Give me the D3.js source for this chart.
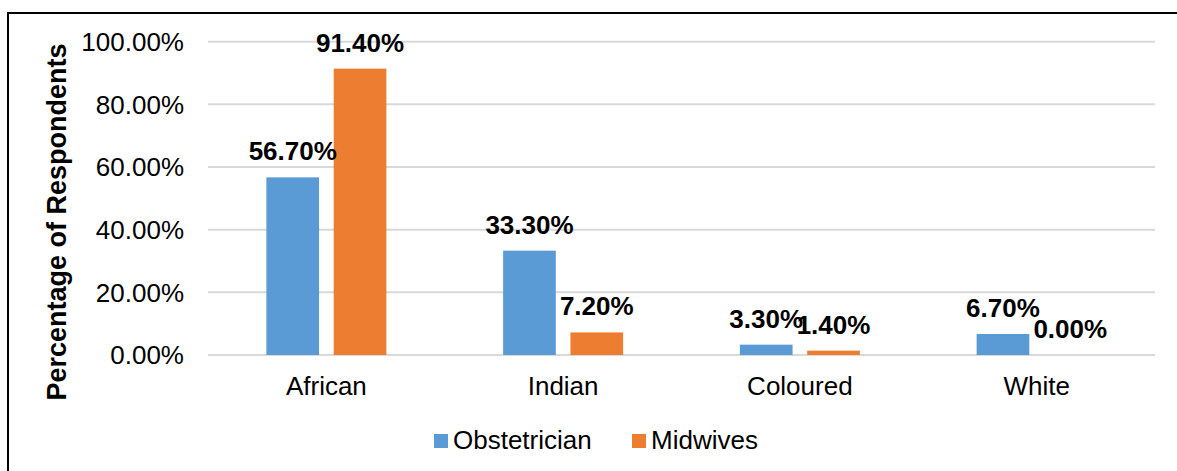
<!DOCTYPE html>
<html>
<head>
<meta charset="utf-8">
<script src="https://cdn.jsdelivr.net/npm/d3@7"></script>
<style>
  html, body { margin: 0; padding: 0; background: #fff; }
  svg { display: block; font-family: "Liberation Sans", Arial, sans-serif; }
</style>
</head>
<body>
<svg id="chart" width="1177" height="471"></svg>
<script>
const categories = ["African", "Indian", "Coloured", "White"];
const seriesNames = ["Obstetrician", "Midwives"];
const obstetrician = [56.7, 33.3, 3.3, 6.7];
const midwives = [91.4, 7.2, 1.4, 0.0];
const seriesValues = [obstetrician, midwives];
const yTicks = [0, 20, 40, 60, 80, 100];
const colors = ["#5b9bd5", "#ed7d31"];

const svg = d3.select("#chart");

// outer frame (only top and left visible in the crop)
svg.append("rect")
  .attr("x", 8).attr("y", 13)
  .attr("width", 1200).attr("height", 500)
  .attr("fill", "none").attr("stroke", "#000").attr("stroke-width", 2);

const plotLeft = 208, plotRight = 1155, plotTop = 41.7, plotBottom = 355;

const y = d3.scaleLinear().domain([0, 100]).range([plotBottom, plotTop]);
const x0 = d3.scaleBand().domain(categories).range([plotLeft, plotRight]).paddingInner(0).paddingOuter(0);
const groupW = 120;
const x1 = d3.scaleBand().domain(seriesNames).range([0, groupW]).paddingInner(0.2175).paddingOuter(0);

// gridlines
svg.append("g").selectAll("line").data(yTicks).join("line")
  .attr("x1", plotLeft).attr("x2", plotRight)
  .attr("y1", d => y(d)).attr("y2", d => y(d))
  .attr("stroke", "#d9d9d9").attr("stroke-width", 2);

// y tick labels
svg.append("g").selectAll("text").data(yTicks).join("text")
  .attr("x", 184).attr("y", d => y(d))
  .attr("dy", "0.36em")
  .attr("text-anchor", "end")
  .attr("font-size", 26)
  .attr("fill", "#000")
  .text(d => d.toFixed(2) + "%");

// bars
const groups = svg.append("g").selectAll("g").data(categories).join("g")
  .attr("transform", c => `translate(${x0(c) + (x0.bandwidth() - groupW) / 2},0)`);

groups.each(function(c, ci) {
  const g = d3.select(this);
  seriesNames.forEach((s, si) => {
    const v = seriesValues[si][ci];
    g.append("rect")
      .attr("x", x1(s)).attr("width", x1.bandwidth())
      .attr("y", y(v)).attr("height", plotBottom - y(v))
      .attr("fill", colors[si]);
  });
  seriesNames.forEach((s, si) => {
    const v = seriesValues[si][ci];
    g.append("text")
      .attr("x", x1(s) + x1.bandwidth() / 2)
      .attr("y", y(v) - 17)
      .attr("text-anchor", "middle")
      .attr("font-size", 26)
      .attr("font-weight", "bold")
      .attr("fill", "#000")
      .text(v.toFixed(2) + "%");
  });
});

// category labels
svg.append("g").selectAll("text").data(categories).join("text")
  .attr("x", c => x0(c) + x0.bandwidth() / 2)
  .attr("y", 395)
  .attr("text-anchor", "middle")
  .attr("font-size", 26)
  .attr("fill", "#000")
  .text(c => c);

// y-axis title
svg.append("text")
  .attr("transform", "translate(66,222) rotate(-90)")
  .attr("text-anchor", "middle")
  .attr("font-size", 27)
  .attr("font-weight", "bold")
  .attr("fill", "#000")
  .text("Percentage of Respondents");

// legend
const legendX = [434, 632];
const leg = svg.append("g").selectAll("g").data(seriesNames).join("g")
  .attr("transform", (d, i) => `translate(${legendX[i]},434)`);
leg.append("rect").attr("width", 14).attr("height", 14).attr("fill", (d, i) => colors[i]);
leg.append("text").attr("x", 19).attr("y", 15)
  .attr("font-size", 26).attr("fill", "#000").text(d => d);
</script>
</body>
</html>
